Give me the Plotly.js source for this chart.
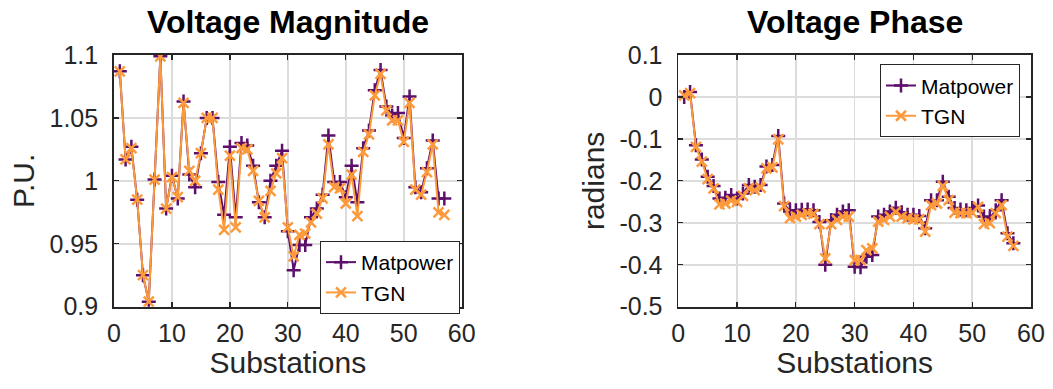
<!DOCTYPE html>
<html>
<head>
<meta charset="utf-8">
<script src="https://cdn.plot.ly/plotly-3.0.1.min.js"></script>
<style>html,body{margin:0;padding:0;background:#fff}#chart{width:1053px;height:389px}</style>
</head>
<body>
<div id="chart"></div>
<script>
const substations = Array.from({length: 57}, (_, i) => i + 1);

const magMatpower = [1.087,1.017,1.027,0.985,0.925,0.904,1.001,1.099,0.978,1.004,0.986,1.063,1.005,0.995,1.022,1.050,1.050,0.999,0.973,1.027,0.971,1.030,1.028,1.012,0.983,0.971,1.000,1.012,1.024,0.960,0.929,0.949,0.949,0.971,0.978,0.989,1.036,0.999,0.999,0.987,1.012,0.983,1.026,1.040,1.072,1.088,1.059,1.052,1.054,1.034,1.067,0.995,0.991,1.010,1.032,0.986,0.986];
const magTGN = [1.087,1.017,1.026,0.985,0.925,0.904,1.001,1.099,0.978,1.003,0.987,1.062,1.008,1.000,1.022,1.050,1.050,0.993,0.961,1.020,0.963,1.026,1.025,1.008,0.984,0.971,0.992,1.006,1.018,0.963,0.940,0.957,0.958,0.967,0.974,0.986,1.029,0.995,0.994,0.982,1.005,0.972,1.023,1.037,1.068,1.085,1.056,1.048,1.048,1.031,1.062,0.993,0.989,1.007,1.029,0.975,0.973];

const phaseMatpower = [0.000,0.012,-0.115,-0.149,-0.190,-0.212,-0.242,-0.240,-0.234,-0.242,-0.230,-0.210,-0.214,-0.210,-0.166,-0.162,-0.093,-0.254,-0.273,-0.270,-0.269,-0.268,-0.270,-0.298,-0.400,-0.294,-0.281,-0.273,-0.270,-0.405,-0.406,-0.381,-0.377,-0.285,-0.281,-0.273,-0.264,-0.275,-0.281,-0.281,-0.284,-0.313,-0.246,-0.246,-0.202,-0.238,-0.265,-0.268,-0.270,-0.265,-0.259,-0.285,-0.289,-0.270,-0.246,-0.325,-0.349];
const phaseTGN = [0.004,0.009,-0.119,-0.154,-0.196,-0.218,-0.256,-0.254,-0.247,-0.250,-0.236,-0.218,-0.222,-0.216,-0.170,-0.168,-0.101,-0.260,-0.289,-0.285,-0.281,-0.277,-0.279,-0.303,-0.385,-0.303,-0.293,-0.285,-0.285,-0.389,-0.389,-0.365,-0.361,-0.297,-0.293,-0.285,-0.274,-0.285,-0.289,-0.292,-0.292,-0.321,-0.258,-0.254,-0.212,-0.246,-0.276,-0.277,-0.277,-0.276,-0.262,-0.303,-0.301,-0.277,-0.258,-0.333,-0.355];

const xTickVals = [0,10,20,30,40,50,60];
const xTickText = ['0','10','20','30','40','50','60'];
const magTickVals = [0.9,0.95,1,1.05,1.1];
const magTickText = ['0.9','0.95','1','1.05','1.1'];
const phaseTickVals = [-0.5,-0.4,-0.3,-0.2,-0.1,0,0.1];
const phaseTickText = ['-0.5','-0.4','-0.3','-0.2','-0.1','0','0.1'];

const purple = '#5c0f6b';
const orange = '#fd9a3c';
const FONT = 'Liberation Sans, Arial, sans-serif';

function tr(y, name, color, symbol, xa, ya, leg) {
  return {
    x: substations, y: y, name: name, type: 'scatter', mode: 'lines+markers',
    xaxis: xa, yaxis: ya, legend: leg,
    line: {color: color, width: 2},
    marker: {symbol: symbol, size: 10, color: color, line: {color: color, width: 2.5}}
  };
}

const data = [
  tr(magMatpower, 'Matpower', purple, 'cross-thin', 'x', 'y', 'legend'),
  tr(magTGN, 'TGN', orange, 'x-thin', 'x', 'y', 'legend'),
  tr(phaseMatpower, 'Matpower', purple, 'cross-thin', 'x2', 'y2', 'legend2'),
  tr(phaseTGN, 'TGN', orange, 'x-thin', 'x2', 'y2', 'legend2')
];

const axBase = {
  showline: true, linecolor: '#262626', linewidth: 1.8, mirror: 'ticks',
  ticks: 'inside', ticklen: 5, tickwidth: 1.2, tickcolor: '#262626',
  showgrid: true, gridcolor: '#dcdcdc', gridwidth: 1.5, zeroline: false,
  tickfont: {family: FONT, size: 25, color: '#262626'},
  tickmode: 'array'
};
const titleFont = {family: FONT, size: 30, color: '#262626'};

const yTop = 1 - 55/389, yBot = 1 - 306.7/389;

const layout = {
  width: 1053, height: 389,
  margin: {l: 0, r: 0, t: 0, b: 0},
  paper_bgcolor: '#fff', plot_bgcolor: '#fff',
  font: {family: FONT, color: '#000'},
  xaxis: Object.assign({}, axBase, {domain: [114/1053, 461.7/1053], anchor: 'y', range: [0, 60], tickvals: xTickVals, ticktext: xTickText,
    ticklabelstandoff: 3, title: {text: 'Substations', font: titleFont, standoff: 4}}),
  yaxis: Object.assign({}, axBase, {domain: [yBot, yTop], anchor: 'x', range: [0.9, 1.1], tickvals: magTickVals, ticktext: magTickText,
    ticklabelstandoff: 9, title: {text: 'P.U.', font: titleFont, standoff: 6}}),
  xaxis2: Object.assign({}, axBase, {domain: [678.3/1053, 1031/1053], anchor: 'y2', range: [0, 60], tickvals: xTickVals, ticktext: xTickText,
    ticklabelstandoff: 3, title: {text: 'Substations', font: titleFont, standoff: 4}}),
  yaxis2: Object.assign({}, axBase, {domain: [yBot, yTop], anchor: 'x2', range: [-0.5, 0.1], tickvals: phaseTickVals, ticktext: phaseTickText,
    ticklabelstandoff: 9, title: {text: 'radians', font: titleFont, standoff: 6}}),
  legend: {x: 320/1053, y: 1 - 241/389, xanchor: 'left', yanchor: 'top', bgcolor: '#fff', bordercolor: '#262626', borderwidth: 1,
    font: {family: FONT, size: 21, color: '#000'}, tracegroupgap: 0, itemwidth: 30},
  legend2: {x: 880/1053, y: 1 - 64.3/389, xanchor: 'left', yanchor: 'top', bgcolor: '#fff', bordercolor: '#262626', borderwidth: 1,
    font: {family: FONT, size: 21, color: '#000'}, tracegroupgap: 0, itemwidth: 30},
  showlegend: true,
  annotations: [
    {text: '<b>Voltage Magnitude</b>', x: 288/1053, y: 1 - 22/389, xref: 'paper', yref: 'paper', showarrow: false, xanchor: 'center', yanchor: 'middle',
     font: {family: FONT, size: 32, color: '#000'}},
    {text: '<b>Voltage Phase</b>', x: 855/1053, y: 1 - 22/389, xref: 'paper', yref: 'paper', showarrow: false, xanchor: 'center', yanchor: 'middle',
     font: {family: FONT, size: 32, color: '#000'}}
  ]
};

Plotly.newPlot('chart', data, layout, {displayModeBar: false, staticPlot: true});
</script>
</body>
</html>
